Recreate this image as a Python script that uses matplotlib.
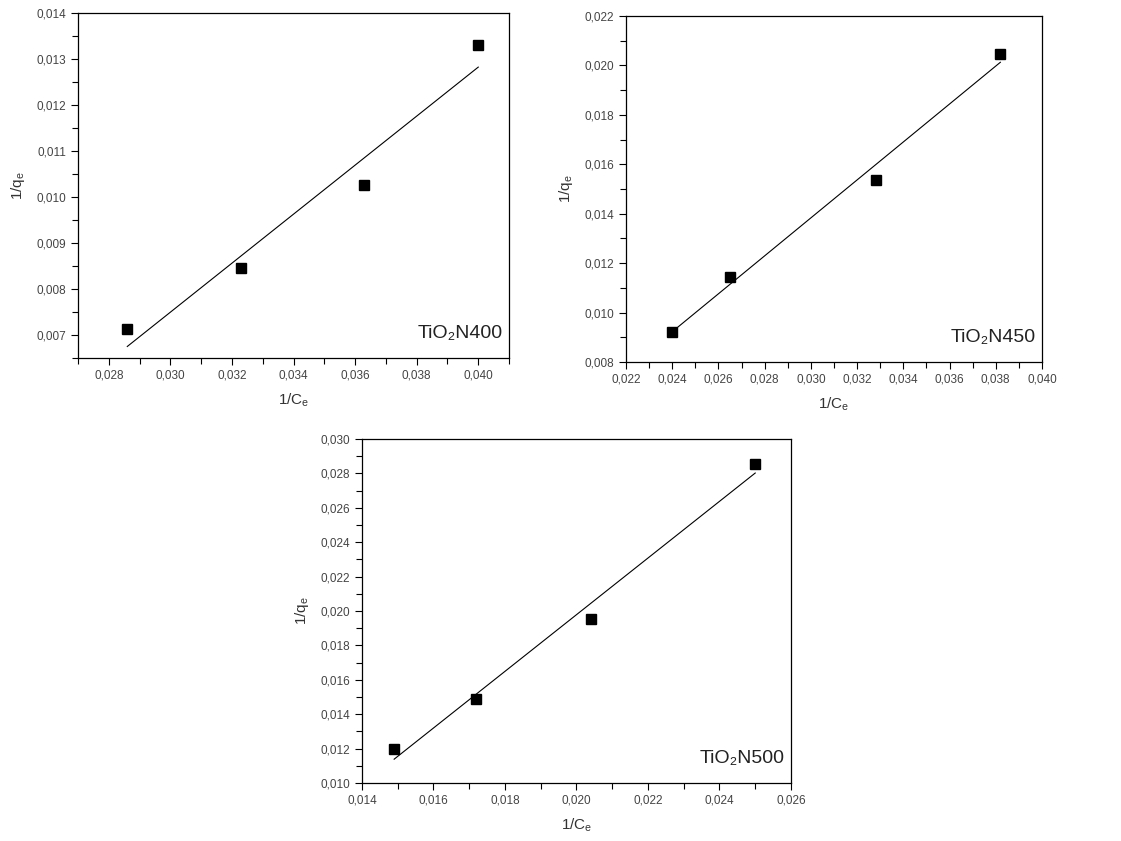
import numpy as np
import matplotlib
matplotlib.use('Agg')
import matplotlib.pyplot as plt
from matplotlib.ticker import MultipleLocator, FuncFormatter

plt.rcParams['font.family'] = ['Liberation Sans', 'DejaVu Sans']

# data: 1/Ce and 1/qe for each sample
x_n400 = [0.0286, 0.0323, 0.0363, 0.0400]
y_n400 = [0.00712, 0.00846, 0.01026, 0.01331]

x_n450 = [0.0240, 0.0265, 0.0328, 0.0382]
y_n450 = [0.00922, 0.01143, 0.01536, 0.02046]

x_n500 = [0.0149, 0.0172, 0.0204, 0.0250]
y_n500 = [0.01200, 0.01490, 0.01955, 0.02857]

labels = ['TiO\u2082N400', 'TiO\u2082N450', 'TiO\u2082N500']


def comma_fmt(v, pos):
    return f"{v:.3f}".replace('.', ',')


def draw_panel(ax, x, y, label, xlim, ylim, xmaj, ymaj, ymin):
    x = np.array(x)
    y = np.array(y)
    # linear fit through the points
    k, b = np.polyfit(x, y, 1)
    ax.plot(x[[0, -1]], k * x[[0, -1]] + b, color='black', lw=0.8)
    ax.plot(x, y, 's', color='black', markersize=6.8)

    ax.set_xlim(*xlim)
    ax.set_ylim(*ylim)
    ax.xaxis.set_major_locator(MultipleLocator(xmaj))
    ax.xaxis.set_minor_locator(MultipleLocator(xmaj / 2))
    ax.yaxis.set_major_locator(MultipleLocator(ymaj))
    ax.yaxis.set_minor_locator(MultipleLocator(ymin))
    ax.xaxis.set_major_formatter(FuncFormatter(comma_fmt))
    ax.yaxis.set_major_formatter(FuncFormatter(comma_fmt))

    ax.tick_params(which='both', direction='out', top=False, right=False,
                   labelsize=8.5, labelcolor='#444444', width=0.8)
    ax.tick_params(which='major', length=5)
    ax.tick_params(which='minor', length=4)
    for s in ax.spines.values():
        s.set_linewidth(0.9)

    ax.set_xlabel('1/C$_\\mathregular{e}$', fontsize=11, color='#333333', labelpad=7)
    ax.set_ylabel('1/q$_\\mathregular{e}$', fontsize=11, color='#333333', labelpad=7)
    ax.text(0.985, 0.045, label, transform=ax.transAxes, ha='right', va='bottom',
            fontsize=14, color='#222222')


fig = plt.figure(figsize=(11.21, 8.41), dpi=100)

ax1 = fig.add_axes([0.0696, 0.5743, 0.3845, 0.4102])
draw_panel(ax1, x_n400, y_n400, labels[0], (0.027, 0.041), (0.0065, 0.014),
           0.002, 0.001, 0.0005)

ax2 = fig.add_axes([0.5584, 0.5696, 0.3711, 0.4114])
draw_panel(ax2, x_n450, y_n450, labels[1], (0.022, 0.040), (0.008, 0.022),
           0.002, 0.002, 0.001)

ax3 = fig.add_axes([0.3229, 0.0690, 0.3827, 0.4090])
draw_panel(ax3, x_n500, y_n500, labels[2], (0.014, 0.026), (0.010, 0.030),
           0.002, 0.002, 0.001)

fig.savefig('out.png', dpi=100)
